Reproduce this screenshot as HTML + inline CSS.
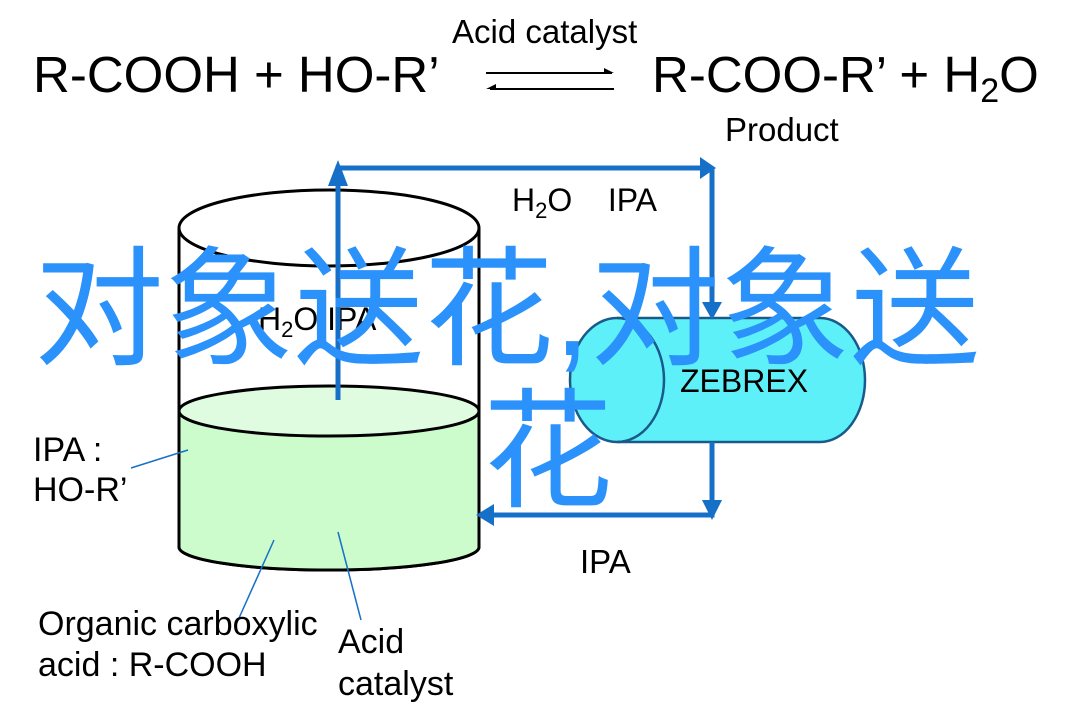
<!DOCTYPE html>
<html><head><meta charset="utf-8"><style>
html,body{margin:0;padding:0;background:#fff;}
body{width:1084px;height:724px;overflow:hidden;position:relative;font-family:"Liberation Sans",sans-serif;}
svg{position:absolute;left:0;top:0;}
.big{position:absolute;color:#2a92fa;font-family:"Liberation Sans","Noto Sans CJK SC",sans-serif;font-size:130px;line-height:140px;white-space:nowrap;}
</style></head><body>
<svg width="1084" height="724" viewBox="0 0 1084 724">
<g font-family="Liberation Sans, sans-serif" fill="#000">
<text x="33" y="92" font-size="51">R-COOH + HO-R’</text>
<text x="452" y="43" font-size="33">Acid catalyst</text>
<text x="652" y="92" font-size="51">R-COO-R’ + H<tspan font-size="34" dy="10">2</tspan><tspan dy="-10">O</tspan></text>
<text x="725" y="141" font-size="33">Product</text>
</g>
<line x1="486" y1="73" x2="612" y2="73" stroke="#000" stroke-width="2"/>
<path d="M604,68 L614,73 L604,73z" fill="#000"/>
<line x1="490" y1="89" x2="614" y2="89" stroke="#000" stroke-width="2"/>
<path d="M496,84 L486,89 L496,89z" fill="#000"/>

<path d="M179,228 L179,547 A150,23 0 0 0 479,547 L479,228" fill="#fff" stroke="#000" stroke-width="3"/>
<path d="M179,411 L179,547 A150,23 0 0 0 479,547 L479,411 z" fill="#ccfccc"/>
<path d="M179,411 L179,547 A150,23 0 0 0 479,547 L479,411" fill="none" stroke="#000" stroke-width="3"/>
<ellipse cx="329" cy="411" rx="150" ry="25" fill="#e0fce0" stroke="#000" stroke-width="3"/>
<ellipse cx="329" cy="228" rx="150" ry="38" fill="#fff" stroke="#000" stroke-width="3"/>
<text x="258" y="330" font-size="32" font-family="Liberation Sans, sans-serif">H<tspan font-size="22" dy="7">2</tspan><tspan dy="-7">O   IPA</tspan></text>

<path d="M617,318 L820,318 A45,62 0 0 1 820,442 L617,442 A47,62 0 0 1 617,318z" fill="#5ef0f8" stroke="#1a5a8a" stroke-width="2.5"/>
<path d="M617,318 A47,62 0 0 1 617,442" fill="none" stroke="#1a5a8a" stroke-width="2.5"/>
<text x="680" y="392" font-size="32" font-family="Liberation Sans, sans-serif">ZEBREX</text>

<g stroke="#1770c8" stroke-width="5" fill="none">
<polyline points="338,400 338,168 703,168"/>
<polyline points="712,168 712,308"/>
<polyline points="712,442 712,515 490,515"/>
</g>
<g fill="#1770c8">
<path d="M328,186 L338,160 L348,186z"/>
<path d="M700,157 L716,168 L700,179z"/>
<path d="M702,302 L712,320 L722,302z"/>
<path d="M702,500 L712,520 L722,500z"/>
<path d="M494,504 L476,515 L494,526z"/>
</g>
<text x="512" y="211" font-size="32" font-family="Liberation Sans, sans-serif" xml:space="preserve">H<tspan font-size="22" dy="7">2</tspan><tspan dy="-7">O    IPA</tspan></text>
<text x="580" y="573" font-size="33" font-family="Liberation Sans, sans-serif">IPA</text>

<g stroke="#1770c8" stroke-width="1.5">
<line x1="131" y1="468" x2="188" y2="450"/>
<line x1="235" y1="627" x2="274" y2="540"/>
<line x1="361" y1="620" x2="338" y2="532"/>
</g>
<g font-family="Liberation Sans, sans-serif" font-size="34" fill="#000">
<text x="33" y="461">IPA :</text>
<text x="33" y="501">HO-R’</text>
<text x="38" y="635">Organic carboxylic</text>
<text x="38" y="676">acid : R-COOH</text>
<text x="338" y="653">Acid</text>
<text x="338" y="695">catalyst</text>
</g>
</svg>
<div class="big" style="left:34px;top:240px;">对象送花,对象送</div>
<div class="big" style="left:483px;top:382px;">花</div>
</body></html>
